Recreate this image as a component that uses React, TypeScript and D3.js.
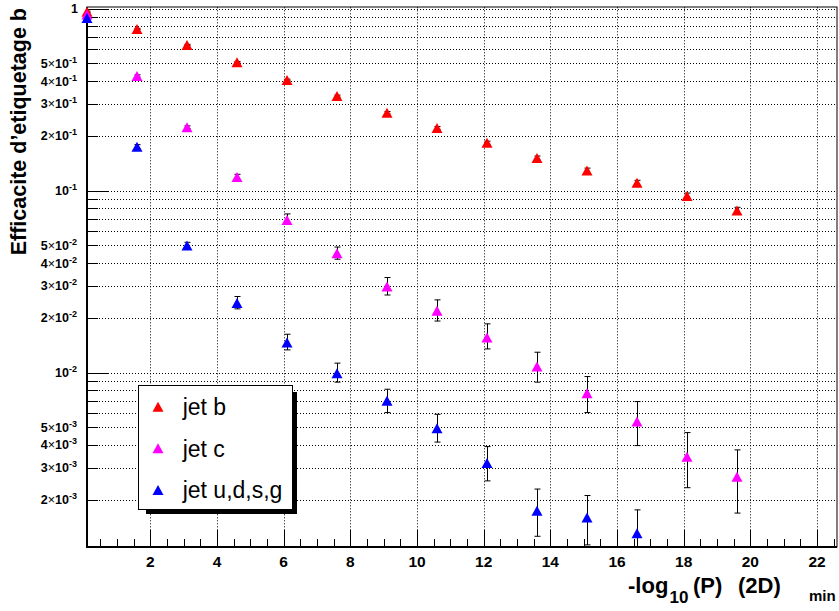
import React from "react";
import * as d3 from "d3";

// ---------- data ----------
const xValues = [0.1, 1.6, 3.1, 4.6, 6.1, 7.6, 9.1, 10.6, 12.1, 13.6, 15.1, 16.6, 18.1, 19.6];

const jetB = [0.963, 0.774, 0.632, 0.508, 0.406, 0.331, 0.268, 0.221, 0.1835, 0.151, 0.129, 0.1106, 0.0935, 0.0777];
const jetBLow = [0.955, 0.768, 0.627, 0.503, 0.402, 0.327, 0.264, 0.217, 0.18, 0.147, 0.125, 0.107, 0.09, 0.074];
const jetBHigh = [0.97, 0.78, 0.637, 0.513, 0.41, 0.335, 0.272, 0.225, 0.187, 0.155, 0.133, 0.114, 0.097, 0.081];

const jetC = [0.93, 0.427, 0.223, 0.119, 0.069, 0.0453, 0.0297, 0.0219, 0.0156, 0.0108, 0.0077, 0.00538, 0.00345, 0.00268];
const jetCLow = [0.925, 0.421, 0.219, 0.115, 0.066, 0.042, 0.0267, 0.0192, 0.01349, 0.00886, 0.00603, 0.00397, 0.00233, 0.00169];
const jetCHigh = [0.935, 0.433, 0.227, 0.123, 0.0745, 0.049, 0.0333, 0.0251, 0.01853, 0.01294, 0.00951, 0.00693, 0.00468, 0.00376];

const jetL = [0.889, 0.1745, 0.0499, 0.0241, 0.01462, 0.00993, 0.007, 0.00495, 0.00318, 0.00174, 0.0016, 0.00131];
const jetLLow = [0.884, 0.17, 0.048, 0.0224, 0.01333, 0.00886, 0.00603, 0.00415, 0.00254, 0.00126, 0.00113, 0.0009];
const jetLHigh = [0.894, 0.179, 0.052, 0.0262, 0.01625, 0.01127, 0.0081, 0.0059, 0.00392, 0.00229, 0.00211, 0.00176];

const seriesNames = ["jet b", "jet c", "jet u,d,s,g"];
const seriesColors = ["#ff0000", "#ff00ff", "#0000ff"];

const xTickLabels = [2, 4, 6, 8, 10, 12, 14, 16, 18, 20, 22];
const yLabelMantissa = [1, 5, 4, 3, 2, 1, 5, 4, 3, 2, 1, 5, 4, 3, 2];
const yLabelExponent = [0, -1, -1, -1, -1, -1, -2, -2, -2, -2, -2, -3, -3, -3, -3];

// ---------- layout ----------
const W = 839;
const H = 611;
const L = 87;
const R = 837;
const T = 7.3;
const B = 547;

const FONT = "'Liberation Sans', Arial, Helvetica, sans-serif";

const x = d3.scaleLinear().domain([0.1, 22.6]).range([L, R]);
const y = d3.scaleLog().domain([1.1e-3, 1.018]).range([B, T]);

const crisp = (v: number) => Math.round(v) + 0.5;

function triangle(cx: number, cy: number, s = 1) {
  const hw = 5.5 * s;
  const hh = 5 * s;
  return `M${cx},${cy - hh}L${cx + hw},${cy + hh}L${cx - hw},${cy + hh}Z`;
}

export default function App() {
  const yGrid = y.ticks().filter((v) => v > 1.1e-3 && v <= 1);
  const xMinor = d3.range(0.5, 22.6, 0.5);

  const series = [
    { v: jetB, lo: jetBLow, hi: jetBHigh },
    { v: jetC, lo: jetCLow, hi: jetCHigh },
    { v: jetL, lo: jetLLow, hi: jetLHigh },
  ];

  return (
    <div style={{ position: "absolute", left: 0, top: 0 }}>
      <svg width={W} height={H} style={{ display: "block", background: "#fff" }} fontFamily={FONT}>
        <defs>
          <clipPath id="frame">
            <rect x={L} y={T} width={R - L} height={B - T} />
          </clipPath>
        </defs>
        <rect x={0} y={0} width={W} height={H} fill="#fff" />

        {/* grid */}
        <g stroke="#000" strokeWidth={1} strokeDasharray="1 2" fill="none">
          {yGrid.map((v, i) => (
            <line key={"gy" + i} x1={L} x2={R} y1={crisp(y(v))} y2={crisp(y(v))} />
          ))}
          {xTickLabels.map((v) => (
            <line key={"gx" + v} x1={crisp(x(v))} x2={crisp(x(v))} y1={T} y2={B} />
          ))}
        </g>

        {/* frame */}
        <rect x={L} y={crisp(T) - 0.5} width={R - L} height={B - crisp(T) + 0.5} fill="none" stroke="#000" strokeWidth={1} />

        {/* ticks */}
        <g stroke="#000" strokeWidth={1}>
          {xMinor.map((v) => {
            const major = Math.abs(v / 2 - Math.round(v / 2)) < 1e-6;
            return (
              <line key={"tx" + v} x1={crisp(x(v))} x2={crisp(x(v))} y1={B} y2={B - (major ? 17 : 8)} />
            );
          })}
          {yGrid.map((v, i) => {
            const major = Math.abs(Math.log10(v) - Math.round(Math.log10(v))) < 1e-6;
            return (
              <line key={"ty" + i} x1={L} x2={L + (major ? 21 : 11)} y1={crisp(y(v))} y2={crisp(y(v))} />
            );
          })}
        </g>

        {/* axes lines */}
        <line x1={L} x2={L} y1={T} y2={B + 1} stroke="#000" strokeWidth={2} />
        <line x1={L - 1} x2={R} y1={B} y2={B} stroke="#000" strokeWidth={2} />

        {/* x tick labels */}
        <g fontSize={15.5} fontWeight="bold" textAnchor="middle" fill="#000">
          {xTickLabels.map((v) => (
            <text key={"lx" + v} x={x(v)} y={567}>
              {v}
            </text>
          ))}
        </g>

        {/* y tick labels */}
        <g fontSize={12.5} fontWeight="bold" textAnchor="end" fill="#000">
          {yLabelMantissa.map((m, i) => {
            const e = yLabelExponent[i];
            const val = m * Math.pow(10, e);
            const yy = y(val) + 4.5;
            if (e === 0) {
              return (
                <text key={"ly" + i} x={78} y={yy}>
                  1
                </text>
              );
            }
            return (
              <text key={"ly" + i} x={77} y={yy}>
                {m !== 1 ? String(m) : ""}
                {m !== 1 ? <tspan fontWeight="normal">×</tspan> : null}
                10
                <tspan fontSize={9} dy={-5}>
                  {String(e)}
                </tspan>
              </text>
            );
          })}
        </g>

        {/* axis titles */}
        <text
          transform="translate(26,8) rotate(-90)"
          textAnchor="end"
          fontSize={21.5}
          fontWeight="bold"
          fill="#000"
        >
          Efficacite d’etiquetage b
        </text>
        <g fontWeight="bold" fill="#000">
          <text x={628} y={593} fontSize={22}>-log</text>
          <text x={669.5} y={603} fontSize={17}>10</text>
          <text x={693} y={593} fontSize={22}>(P)</text>
          <text x={738} y={593} fontSize={22}>(2D)</text>
          <text x={809} y={601} fontSize={15}>min</text>
        </g>

        {/* error bars */}
        <g clipPath="url(#frame)" stroke="#000" strokeWidth={1}>
          {series.map((s, si) =>
            s.v.map((v, i) => {
              const cx = crisp(x(xValues[i]));
              const y1 = y(s.hi[i]);
              const y2 = y(s.lo[i]);
              return (
                <g key={"e" + si + "-" + i}>
                  <line x1={cx} x2={cx} y1={y1} y2={y2} />
                  <line x1={cx - 3} x2={cx + 3} y1={y1} y2={y1} />
                  <line x1={cx - 3} x2={cx + 3} y1={y2} y2={y2} />
                </g>
              );
            })
          )}
        </g>

        {/* markers */}
        {series.map((s, si) => (
          <g key={"m" + si} fill={seriesColors[si]}>
            {s.v.map((v, i) => (
              <path key={i} d={triangle(x(xValues[i]), y(v))} />
            ))}
          </g>
        ))}

        {/* legend */}
        <rect x={146} y={392} width={151} height={122} fill="#000" />
        <rect x={138.5} y={385.5} width={154} height={124} fill="#fff" stroke="#000" strokeWidth={1} />
        {seriesNames.map((n, i) => (
          <g key={"lg" + i}>
            <path d={triangle(158, 406.7 + i * 41.6)} fill={seriesColors[i]} />
            <text x={182.7} y={415 + i * 41.5} fontSize={23} fill="#000">
              {n}
            </text>
          </g>
        ))}
      </svg>
    </div>
  );
}
